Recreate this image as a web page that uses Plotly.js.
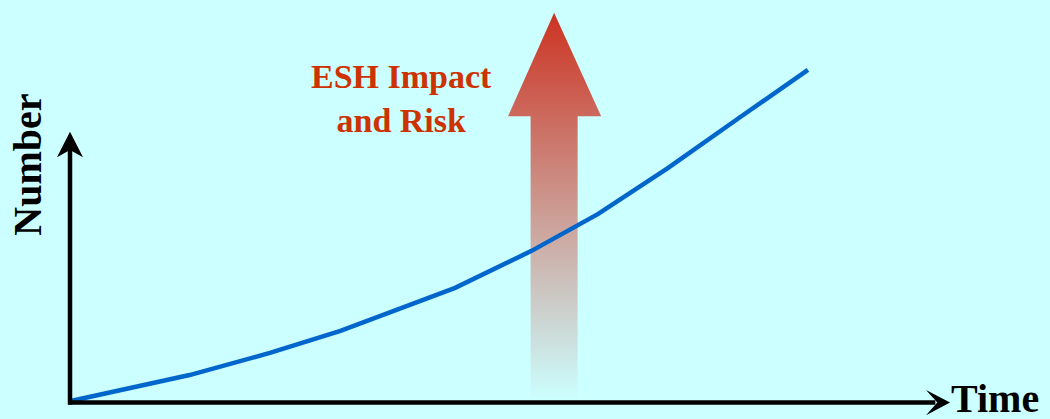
<!DOCTYPE html>
<html>
<head>
<meta charset="utf-8">
<script src="https://cdn.plot.ly/plotly-3.0.1.min.js"></script>
<style>
  html, body { margin: 0; padding: 0; background: #CCFFFF; }
  #chart { width: 1050px; height: 419px; }
</style>
</head>
<body>
<div id="chart"></div>
<script>
// Data (arbitrary units: time 0..100, number 0..100)
const timeValues = [0.2, 12.2, 20.4, 27.6, 39.3, 47.1, 53.9, 61.0, 68.4, 75.3];
const numberValues = [0.3, 6.7, 12.2, 17.7, 28.4, 37.6, 46.8, 58.2, 70.9, 82.6];

// Labels
const xLabel = 'Time';
const yLabel = 'Number';
const arrowLabel = 'ESH Impact<br>and Risk';

// Decorative up-arrow outline (axis units)
const arrowX = [47.0, 47.0, 44.7, 49.4, 54.2, 51.8, 51.8, 47.0];
const arrowY = [0.5, 71.1, 71.1, 96.8, 71.1, 71.1, 0.5, 0.5];

const bg = '#CCFFFF';
const axisColor = '#000000';
const lineColor = '#0066CC';
const textColor = '#CC3300';
const serif = '"Liberation Serif", "Times New Roman", serif';

const traces = [
  {
    x: arrowX, y: arrowY,
    type: 'scatter', mode: 'lines',
    fill: 'toself',
    line: { width: 0, color: 'rgba(0,0,0,0)' },
    fillgradient: {
      type: 'vertical',
      colorscale: [[0, 'rgba(204,51,34,0)'], [1, 'rgba(204,51,34,1)']]
    },
    hoverinfo: 'skip', showlegend: false
  },
  {
    x: timeValues, y: numberValues,
    type: 'scatter', mode: 'lines',
    line: { color: lineColor, width: 4.5 },
    hoverinfo: 'skip', showlegend: false
  }
];

const layout = {
  width: 1050, height: 419,
  margin: { l: 0, r: 0, t: 0, b: 0, pad: 0 },
  paper_bgcolor: bg, plot_bgcolor: bg,
  showlegend: false,
  xaxis: { range: [-7.143, 100], visible: false, fixedrange: true },
  yaxis: { range: [-4.229, 100], visible: false, fixedrange: true },
  shapes: [
    // y axis shaft
    { type: 'line', xref: 'x', yref: 'y', x0: 0, x1: 0, y0: -0.6, y1: 63.2,
      line: { color: axisColor, width: 4.5 } },
    // y axis arrowhead
    { type: 'path', xref: 'x', yref: 'y',
      path: 'M 0 67.2 L 1.33 60.9 L 0 62.7 L -1.33 60.9 Z',
      fillcolor: axisColor, line: { width: 0 } },
    // x axis shaft
    { type: 'line', xref: 'x', yref: 'y', x0: -0.2, x1: 88.3, y0: -0.1, y1: -0.1,
      line: { color: axisColor, width: 4.5 } },
    // x axis arrowhead
    { type: 'path', xref: 'x', yref: 'y',
      path: 'M 89.8 -0.15 L 87.35 3.0 L 88.5 -0.15 L 87.35 -3.3 Z',
      fillcolor: axisColor, line: { width: 0 } }
  ],
  annotations: [
    { text: xLabel, xref: 'x', yref: 'y', x: 89.7, y: 0.9,
      xanchor: 'left', yanchor: 'middle', showarrow: false,
      font: { family: serif, size: 40, color: axisColor, weight: 'bold' } },
    { text: yLabel, xref: 'x', yref: 'y', x: -4.3, y: 59,
      xanchor: 'center', yanchor: 'middle', showarrow: false, textangle: -90,
      font: { family: serif, size: 40, color: axisColor, weight: 'bold' } },
    { text: arrowLabel, xref: 'x', yref: 'y', x: 33.8, y: 75.5,
      xanchor: 'center', yanchor: 'middle', showarrow: false, align: 'center',
      font: { family: serif, size: 34, color: textColor, weight: 'bold' } }
  ]
};

Plotly.newPlot('chart', traces, layout, { displayModeBar: false, staticPlot: true });
</script>
</body>
</html>
